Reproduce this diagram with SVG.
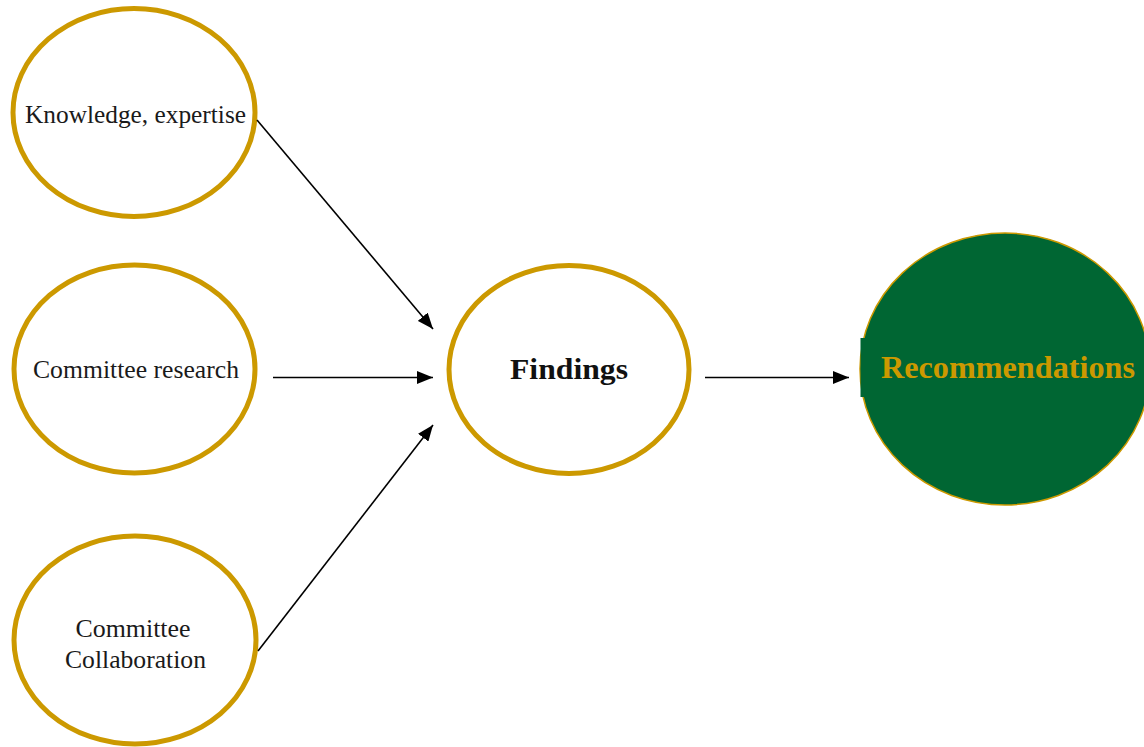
<svg xmlns="http://www.w3.org/2000/svg" width="1144" height="747" viewBox="0 0 1144 747">
<defs>
<style>
.node{fill:#ffffff;stroke:#CC9900;stroke-width:5}
.lbl{font-family:"Liberation Serif","Times New Roman",serif;font-size:25px;fill:#1a1a1a;text-anchor:middle}
.conn{stroke:#000000;stroke-width:1.6;fill:none;marker-end:url(#ah)}
</style>
<marker id="ah" markerWidth="16" markerHeight="13" refX="16" refY="6.5" orient="auto" markerUnits="userSpaceOnUse">
<path d="M0,0 L16,6.5 L0,13 Z" fill="#000"/>
</marker>
</defs>
<rect width="1144" height="747" fill="#ffffff"/>
<g id="n-knowledge">
<ellipse class="node" cx="134" cy="112.5" rx="121" ry="104"/>
<text class="lbl" x="135.5" y="122.5" textLength="221" lengthAdjust="spacingAndGlyphs">Knowledge, expertise</text>
</g>
<g id="n-research">
<ellipse class="node" cx="134.5" cy="369" rx="120.5" ry="104"/>
<text class="lbl" x="136" y="378" textLength="206" lengthAdjust="spacingAndGlyphs">Committee research</text>
</g>
<g id="n-collab">
<ellipse class="node" cx="135" cy="640" rx="121" ry="104"/>
<text class="lbl" x="133" y="637" textLength="115" lengthAdjust="spacingAndGlyphs">Committee</text>
<text class="lbl" x="135.5" y="668" textLength="141" lengthAdjust="spacingAndGlyphs">Collaboration</text>
</g>
<g id="n-findings">
<ellipse class="node" cx="569" cy="369.5" rx="120" ry="104"/>
<text x="569" y="379" style="font-family:'Liberation Serif','Times New Roman',serif;font-size:30px;font-weight:bold;fill:#111;text-anchor:middle" textLength="118" lengthAdjust="spacingAndGlyphs">Findings</text>
</g>
<g id="n-recommendations">
<ellipse cx="1005" cy="369" rx="145" ry="136" fill="#006633" stroke="#CC9900" stroke-width="1.5"/>
<rect x="860.5" y="338" width="280" height="59" fill="#006633"/>
<text x="1008" y="378" style="font-family:'Liberation Serif','Times New Roman',serif;font-size:31px;font-weight:bold;fill:#CC9900;text-anchor:middle" textLength="254" lengthAdjust="spacingAndGlyphs">Recommendations</text>
</g>
<g id="connectors">
<line class="conn" x1="257" y1="120" x2="433" y2="329"/>
<line class="conn" x1="273" y1="377.5" x2="433" y2="377.5"/>
<line class="conn" x1="258" y1="651" x2="433" y2="425"/>
<line class="conn" x1="705" y1="377.5" x2="849" y2="377.5"/>
</g>
</svg>
